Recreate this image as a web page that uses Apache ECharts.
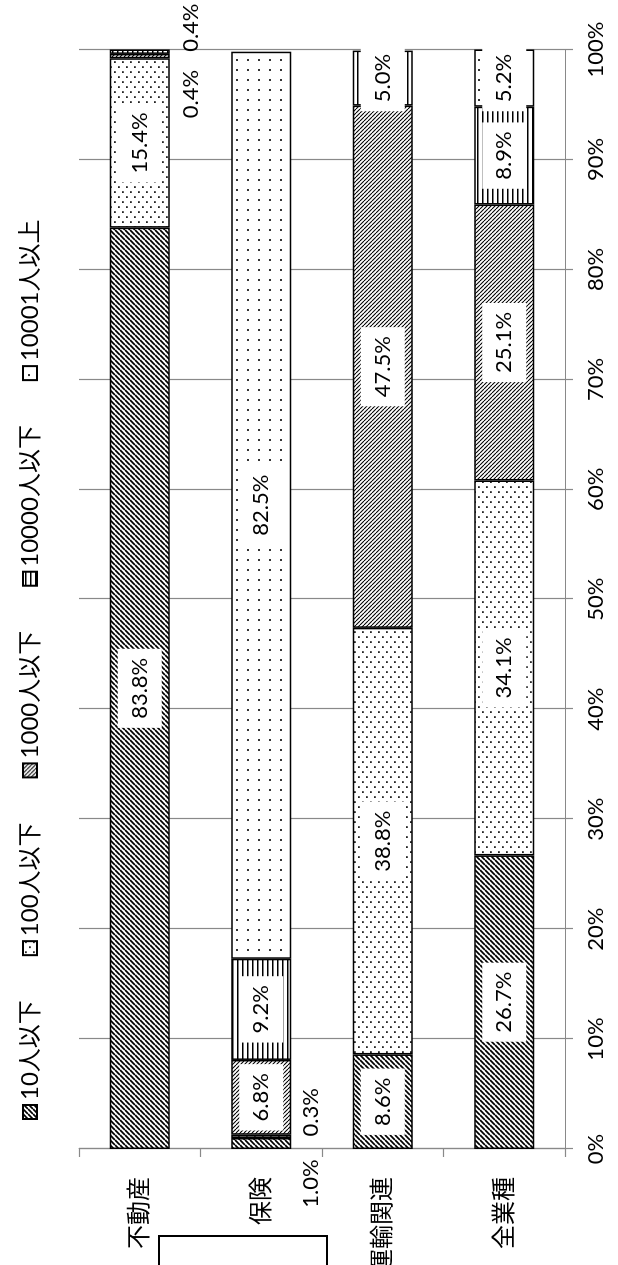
<!DOCTYPE html>
<html>
<head>
<meta charset="utf-8">
<script src="https://cdn.jsdelivr.net/npm/echarts@6/dist/echarts.min.js"></script>
<style>
  html, body { margin: 0; padding: 0; background: #fff; overflow: hidden; width: 618px; height: 1265px; }
  #chart { position: absolute; left: 0; top: 1265px; width: 1265px; height: 618px;
           transform-origin: 0 0; transform: rotate(-90deg); }
</style>
</head>
<body>
<div id="chart"></div>
<script>
// ---- data ----
const categories = ['不動産', '保険', '運輸関連', '全業種'];
const seriesNames = ['10人以下', '100人以下', '1000人以下', '10000人以下', '10001人以上'];
const v10 = [83.8, 1.0, 8.6, 26.7];
const v100 = [15.4, 0.3, 38.8, 34.1];
const v1000 = [0.4, 6.8, 47.5, 25.1];
const v10000 = [0.4, 9.2, 5.0, 8.9];
const v10001 = [0, 82.5, 0, 5.2];
const valueTicks = [0, 10, 20, 30, 40, 50, 60, 70, 80, 90, 100];

// labels moved outside the bar (offsets in chart coordinates)
const outsideLabels = {
  '1000人以下|不動産': [-38, 51],
  '10000人以下|不動産': [24, 51],
  '10人以下|保険': [-40, 50],
  '100人以下|保険': [24, 50]
};

// ---- patterns ----
function tile(w, h, draw) {
  const c = document.createElement('canvas');
  c.width = w; c.height = h;
  const ctx = c.getContext('2d');
  ctx.fillStyle = '#fff'; ctx.fillRect(0, 0, w, h);
  draw(ctx, w, h);
  return { image: c, repeat: 'repeat' };
}
function diag(s, lw, up) {
  return tile(s, s, (ctx) => {
    ctx.strokeStyle = '#000'; ctx.lineWidth = lw;
    for (let k = -1; k <= 1; k++) {
      ctx.beginPath();
      if (up) { ctx.moveTo(k * s, s); ctx.lineTo(k * s + s, 0); }
      else { ctx.moveTo(k * s, 0); ctx.lineTo(k * s + s, s); }
      ctx.stroke();
    }
  });
}
const patterns = [
  diag(5, 1.7, true),
  tile(10, 8, (ctx) => { ctx.fillStyle = '#222'; ctx.fillRect(2, 2, 1.8, 1.8); ctx.fillRect(7, 6, 1.8, 1.8); }),
  diag(4, 1.1, false),
  tile(4, 5, (ctx) => { ctx.fillStyle = '#000'; ctx.fillRect(0, 2, 4, 1.5); }),
  tile(10, 11, (ctx) => { ctx.fillStyle = '#333'; ctx.fillRect(4, 5, 2, 2); })
];

const values = [v10, v100, v1000, v10000, v10001];
const FONT = "Lato, 'Noto Sans CJK JP', sans-serif";

const series = seriesNames.map((name, si) => ({
  name: name,
  type: 'bar',
  stack: 'total',
  barWidth: 60,
  itemStyle: { color: patterns[si], borderColor: '#000', borderWidth: 1.5 },
  label: {
    show: true,
    position: 'inside',
    fontFamily: FONT,
    fontSize: 22,
    lineHeight: 22,
    color: '#000',
    backgroundColor: '#fff',
    padding: [11, 9],
    formatter: (p) => p.value.toFixed(1) + '%'
  },
  data: values[si].map((v, ci) => {
    if (!v) return null;
    const key = name + '|' + categories[ci];
    if (outsideLabels[key]) {
      return { value: v, label: { offset: outsideLabels[key], backgroundColor: 'transparent', padding: 0 } };
    }
    return v;
  })
}));

const chart = echarts.init(document.getElementById('chart'), null, { renderer: 'canvas' });
chart.setOption({
  animation: false,
  backgroundColor: '#fff',
  textStyle: { fontFamily: FONT },
  legend: {
    left: 140,
    top: 13,
    itemWidth: 14,
    itemHeight: 14,
    itemGap: 44,
    icon: 'rect',
    textStyle: { fontFamily: FONT, fontSize: 24, color: '#000' },
    data: seriesNames
  },
  grid: { left: 116, right: 49.5, top: 79, bottom: 53, containLabel: false, outerBoundsMode: 'none' },
  xAxis: {
    type: 'value',
    min: valueTicks[0],
    max: valueTicks[valueTicks.length - 1],
    interval: valueTicks[1] - valueTicks[0],
    axisLine: { show: true, lineStyle: { color: '#898989', width: 1.2 } },
    axisTick: { show: true, length: 8, lineStyle: { color: '#898989', width: 1.2 } },
    splitLine: { show: true, lineStyle: { color: '#898989', width: 1.2 } },
    axisLabel: { formatter: '{value}%', fontFamily: FONT, fontSize: 22, color: '#000', margin: 20 }
  },
  yAxis: {
    type: 'category',
    inverse: true,
    data: categories,
    axisLine: { show: true, lineStyle: { color: '#898989', width: 1.2 } },
    axisTick: { show: true, length: 8, alignWithLabel: false, lineStyle: { color: '#898989', width: 1.2 } },
    axisLabel: { fontFamily: FONT, fontSize: 24, color: '#000', margin: 28 }
  },
  graphic: [
    { type: 'rect', shape: { x: -5, y: 159, width: 34, height: 168 },
      style: { fill: '#fff', stroke: '#000', lineWidth: 2 }, z: 100 }
  ],
  series: series
});
</script>
</body>
</html>
